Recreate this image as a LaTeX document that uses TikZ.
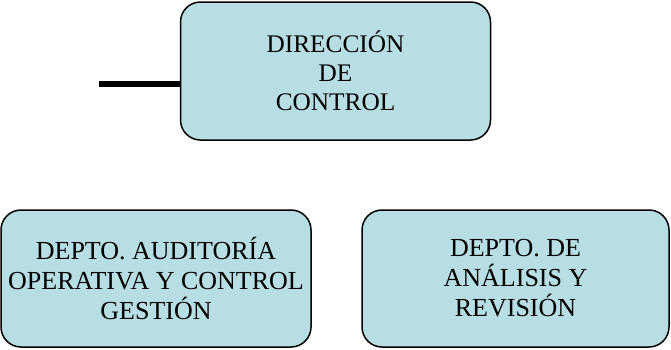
\documentclass[tikz,border=0pt]{standalone}
\usepackage{fontspec}
\setmainfont{Liberation Serif}
\definecolor{boxfill}{RGB}{183,222,227}
\begin{document}
\begin{tikzpicture}[x=1pt,y=-1pt,
  orgbox/.style={draw=black, line width=1.5pt, fill=boxfill, rounded corners=20pt,
    align=center, inner sep=0pt,
    font=\fontsize{25.3pt}{29pt}\selectfont},
  deptbox/.style={orgbox, font=\fontsize{26pt}{30pt}\selectfont},
  stub/.style={line width=5.5pt, draw=black}]
\useasboundingbox (0,0) rectangle (671,349);
\node[orgbox, minimum width=310pt, minimum height=138pt] (dir) at (335.5,71)
  {DIRECCIÓN\\DE\\CONTROL};
\node[deptbox, minimum width=310pt, minimum height=137pt] (aud) at (156,278.5)
  {DEPTO. AUDITORÍA\\OPERATIVA Y CONTROL\\GESTIÓN};
\node[deptbox, minimum width=307pt, minimum height=137pt] (ana) at (515.5,278.5)
  {DEPTO. DE\\ANÁLISIS Y\\REVISIÓN};
\coordinate (stubend) at (99,84);
\draw[stub] (stubend) -- (stubend -| dir.west);
\end{tikzpicture}
\end{document}
